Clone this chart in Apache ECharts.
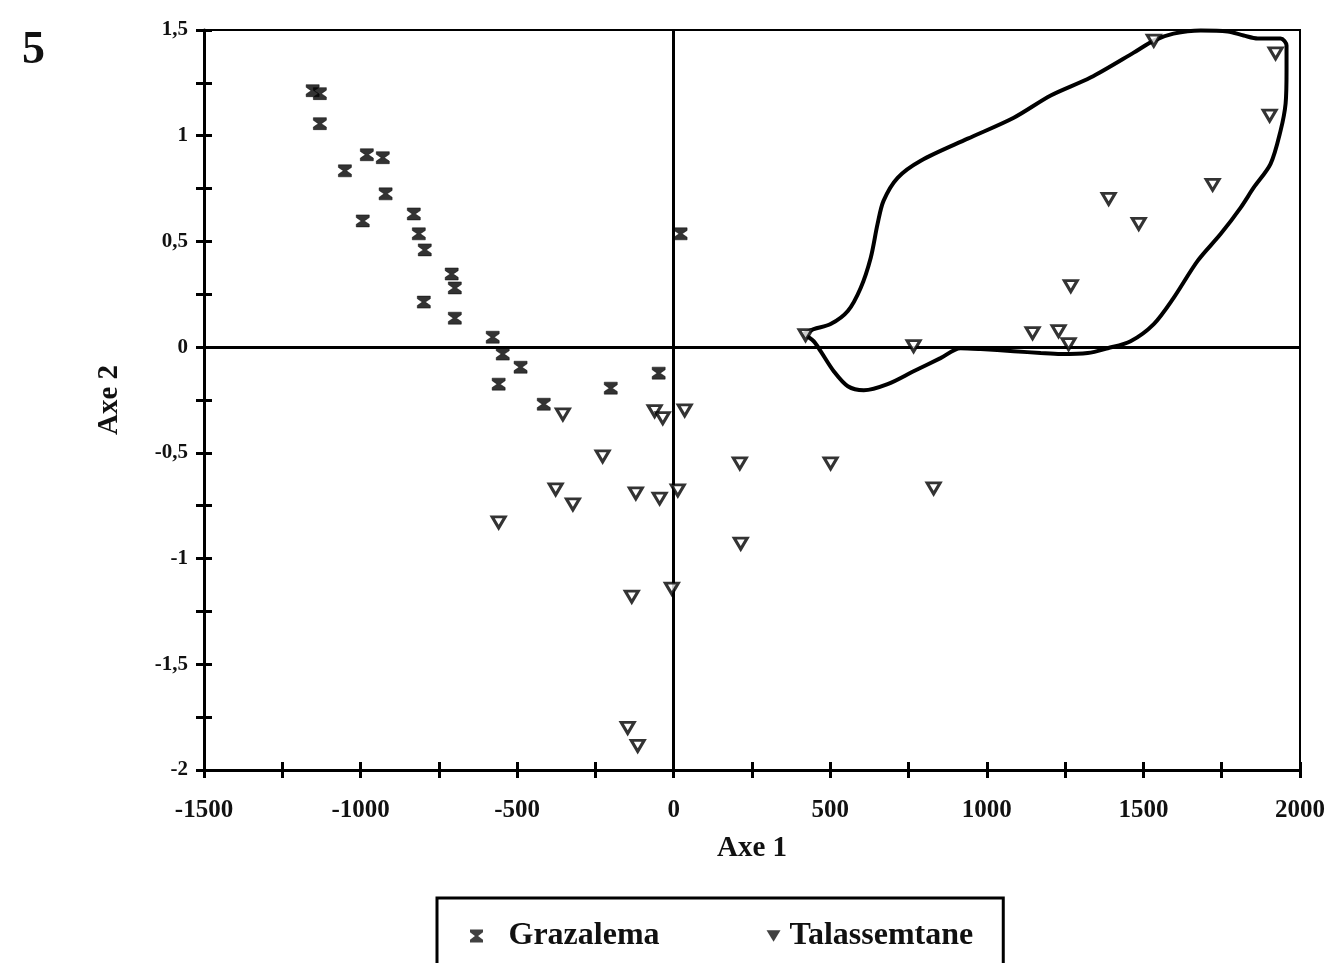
<!DOCTYPE html>
<html>
<head>
<meta charset="utf-8">
<script src="https://cdn.jsdelivr.net/npm/echarts@6/dist/echarts.min.js"></script>
<style>
  html, body { margin: 0; padding: 0; background: #fff; }
  #chart { width: 1334px; height: 963px; }
</style>
</head>
<body>
<div id="chart"></div>
<script>
// Axis ticks (labels every 500 / every 0.5)
const xTickLabels = [-1500, -1000, -500, 0, 500, 1000, 1500, 2000];
const yTickLabels = [-2, -1.5, -1, -0.5, 0, 0.5, 1, 1.5];

// Grazalema samples (Axe 1, Axe 2)
const grazalemaAxe1 = [-1153, -1130, -1130, -1050, -980, -929, -920, -993, -830, -814, -795,
  -709, -699, -798, -699, -578, -546, -489, -559, -415, -201, -48, 22];
const grazalemaAxe2 = [1.213, 1.199, 1.057, 0.834, 0.910, 0.896, 0.725, 0.597, 0.630, 0.536, 0.460,
  0.346, 0.280, 0.213, 0.137, 0.047, -0.033, -0.095, -0.175, -0.270, -0.194, -0.123, 0.536];

// Talassemtane samples (Axe 1, Axe 2)
const talassemtaneAxe1 = [-354, -227, -377, -322, -559, -121, -61, -35, 35, -45, 13, -134, -6,
  -147, -115, 211, 501, 830, 214, 766, 421, 1146, 1229, 1261, 1268, 1485, 1389, 1721, 1903, 1922, 1533];
const talassemtaneAxe2 = [-0.318, -0.517, -0.673, -0.744, -0.829, -0.692, -0.303, -0.336, -0.299,
  -0.716, -0.678, -1.180, -1.142, -1.801, -1.886, -0.550, -0.550, -0.668, -0.929, 0.005, 0.057,
  0.066, 0.076, 0.014, 0.289, 0.583, 0.701, 0.768, 1.095, 1.389, 1.450];

// Hand-drawn envelope around the Talassemtane group
const outlineAxe1 = [415, 447, 501, 556, 597, 629, 651, 670, 715, 789, 939, 1086, 1204, 1331, 1469,
  1533, 1596, 1683, 1769, 1820, 1865, 1938, 1957, 1957, 1954, 1938, 1906, 1852, 1810, 1747, 1673,
  1596, 1533, 1459, 1386, 1322, 1236, 1172, 1086, 980, 916, 852, 766, 683, 607, 556, 511, 469, 447, 415];
const outlineAxe2 = [0.062, 0.085, 0.109, 0.171, 0.280, 0.422, 0.583, 0.692, 0.801, 0.882, 0.986,
  1.085, 1.190, 1.275, 1.393, 1.450, 1.483, 1.498, 1.493, 1.474, 1.460, 1.460, 1.427, 1.308, 1.152,
  1.024, 0.867, 0.754, 0.659, 0.536, 0.408, 0.232, 0.109, 0.028, -0.005, -0.028, -0.033, -0.028,
  -0.019, -0.009, -0.005, -0.052, -0.114, -0.175, -0.204, -0.185, -0.114, -0.019, 0.028, 0.062];

const zip = (a, b) => a.map((v, i) => [v, b[i]]);

const SERIF = '"Liberation Serif", "Times New Roman", serif';
const HOURGLASS = 'path://M0,0H10V2.2L6.2,5L10,7.8V10H0V7.8L3.8,5L0,2.2Z';
const TRI_DOWN = 'path://M0,0H12L6,10Z';

const xLabel = v => (xTickLabels.indexOf(v) >= 0 ? String(v) : '');
const yLabel = v => {
  const r = Math.round(v * 100) / 100;
  return yTickLabels.indexOf(r) >= 0 ? String(r).replace('.', ',') : '';
};

const baseX = {
  type: 'value', min: -1500, max: 2000, interval: 250,
  splitLine: { show: false }
};
const baseY = {
  type: 'value', min: -2, max: 1.5, interval: 0.25,
  splitLine: { show: false }
};

const chart = echarts.init(document.getElementById('chart'), null, { renderer: 'canvas' });
chart.setOption({
  backgroundColor: '#fff',
  animation: false,
  grid: {
    left: 204, right: 34, top: 30, bottom: 193,
    show: true, borderColor: '#000', borderWidth: 2
  },
  graphic: [{
    type: 'text', left: 22, top: 28,
    style: { text: '5', font: 'bold 46px ' + SERIF, fill: '#111' }
  }],
  xAxis: [
    Object.assign({}, baseX, {
      position: 'bottom',
      name: 'Axe 1', nameLocation: 'middle', nameGap: 64,
      nameTextStyle: { fontFamily: SERIF, fontWeight: 'bold', fontSize: 29, color: '#111' },
      axisLine: { show: true, onZero: false, lineStyle: { color: '#000', width: 3 } },
      axisTick: { show: true, inside: false, length: 8, lineStyle: { color: '#000', width: 3 } },
      axisLabel: { formatter: xLabel, margin: 28, fontFamily: SERIF, fontWeight: 'bold', fontSize: 25, color: '#111' }
    }),
    Object.assign({}, baseX, {
      position: 'bottom',
      axisLine: { show: false, onZero: false },
      axisTick: { show: true, inside: true, length: 8, lineStyle: { color: '#000', width: 3 } },
      axisLabel: { show: false }
    })
  ],
  yAxis: [
    Object.assign({}, baseY, {
      position: 'left',
      name: 'Axe 2', nameLocation: 'middle', nameGap: 80, nameRotate: 90,
      nameTextStyle: { fontFamily: SERIF, fontWeight: 'bold', fontSize: 29, color: '#111' },
      axisLine: { show: true, onZero: false, lineStyle: { color: '#000', width: 3 } },
      axisTick: { show: true, inside: false, length: 8, lineStyle: { color: '#000', width: 3 } },
      axisLabel: { formatter: yLabel, margin: 16, fontFamily: SERIF, fontWeight: 'bold', fontSize: 21, color: '#111' }
    }),
    Object.assign({}, baseY, {
      position: 'left',
      axisLine: { show: false, onZero: false },
      axisTick: { show: true, inside: true, length: 8, lineStyle: { color: '#000', width: 3 } },
      axisLabel: { show: false }
    })
  ],
  legend: {
    left: 437, top: 898,
    padding: [22, 30, 40, 33],
    borderColor: '#000', borderWidth: 3,
    itemGap: 107, itemWidth: 14, itemHeight: 13,
    textStyle: { fontFamily: SERIF, fontWeight: 'bold', fontSize: 32, color: '#111' },
    data: [
      { name: 'Grazalema', icon: HOURGLASS, itemStyle: { color: '#111', borderWidth: 0 },
        textStyle: { padding: [0, 8, 0, 20] } },
      { name: 'Talassemtane', icon: TRI_DOWN, itemStyle: { color: '#111', borderWidth: 0 },
        textStyle: { padding: [0, 0, 0, 4] } }
    ]
  },
  series: [
    {
      name: 'envelope',
      type: 'line',
      data: zip(outlineAxe1, outlineAxe2),
      smooth: 0.3,
      symbol: 'none',
      lineStyle: { color: '#000', width: 4 },
      z: 3,
      markLine: {
        silent: true, symbol: 'none', animation: false,
        label: { show: false },
        lineStyle: { color: '#000', width: 3, type: 'solid' },
        data: [{ xAxis: 0 }, { yAxis: 0 }]
      }
    },
    {
      name: 'Grazalema',
      type: 'scatter',
      data: zip(grazalemaAxe1, grazalemaAxe2),
      symbol: HOURGLASS,
      symbolSize: [13, 12],
      itemStyle: { color: '#000', borderColor: '#000', borderWidth: 0.6 },
      z: 5
    },
    {
      name: 'Talassemtane',
      type: 'scatter',
      data: zip(talassemtaneAxe1, talassemtaneAxe2),
      symbol: TRI_DOWN,
      symbolSize: [13, 11],
      itemStyle: { color: '#fff', borderColor: '#000', borderWidth: 3 },
      z: 5
    }
  ]
});
</script>
</body>
</html>
